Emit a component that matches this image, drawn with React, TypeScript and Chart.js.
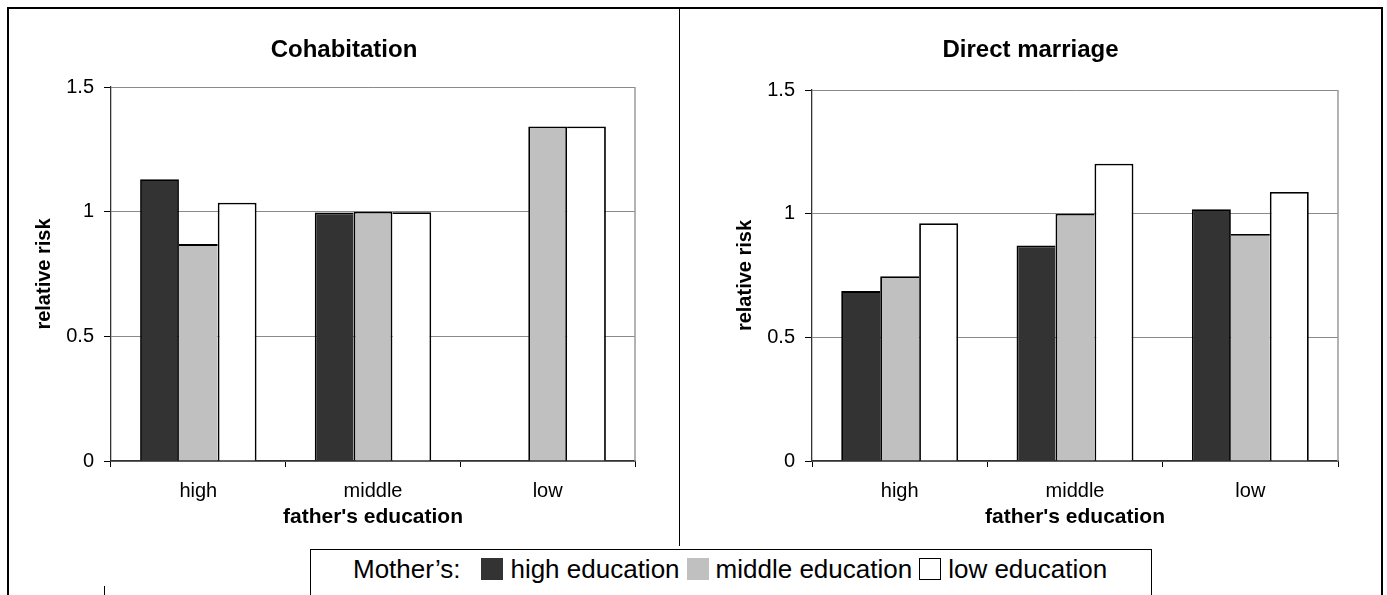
import React, { useEffect, useRef } from "react";
import { Chart, registerables } from "chart.js";

Chart.register(...registerables);

// Categories and series
const fatherEducation = ["high", "middle", "low"];
const motherSeries = ["high education", "middle education", "low education"];

// Relative risk of entering cohabitation, by mother's education
const cohabMotherHigh: (number | null)[] = [1.13, 0.997, null];
const cohabMotherMiddle: (number | null)[] = [0.87, 1.0, 1.342];
const cohabMotherLow: (number | null)[] = [1.036, 0.998, 1.342];

// Relative risk of direct marriage, by mother's education
const marriageMotherHigh: (number | null)[] = [0.687, 0.871, 1.018];
const marriageMotherMiddle: (number | null)[] = [0.747, 1.0, 0.918];
const marriageMotherLow: (number | null)[] = [0.961, 1.202, 1.088];

const yTickValues = [0, 0.5, 1, 1.5];

const FONT = '"Liberation Sans", Arial, Helvetica, sans-serif';
const COLORS = ["#333333", "#c0c0c0", "#ffffff"];

type PanelLayout = {
  left: number; // canvas page position
  top: number;
  width: number;
  height: number;
  plotLeft: number; // plot area, page coords
  plotRight: number;
  plotTop: number;
  plotBottom: number;
};

const LEFT_PANEL: PanelLayout = {
  left: 9, top: 9, width: 670, height: 539,
  plotLeft: 111, plotRight: 635, plotTop: 87, plotBottom: 461,
};
const RIGHT_PANEL: PanelLayout = {
  left: 680, top: 9, width: 701, height: 539,
  plotLeft: 812, plotRight: 1338, plotTop: 90, plotBottom: 461,
};

function panelTextPlugin(title: string) {
  return {
    id: "panelText",
    afterDraw(chart: any) {
      const { ctx, chartArea: a, width } = chart;
      ctx.save();
      ctx.fillStyle = "#000";
      ctx.textAlign = "center";
      ctx.textBaseline = "alphabetic";
      ctx.font = `bold 24px ${FONT}`;
      ctx.fillText(title, width / 2, 48);
      ctx.font = `bold 21px ${FONT}`;
      ctx.fillText("father's education", (a.left + a.right) / 2, 514);
      ctx.translate(a.left - 67, (a.top + a.bottom) / 2);
      ctx.rotate(-Math.PI / 2);
      ctx.textBaseline = "middle";
      ctx.font = `bold 20px ${FONT}`;
      ctx.fillText("relative risk", 0, 0);
      ctx.restore();
    },
  };
}

// grey right edge of the plot frame
const frameEdge = {
  id: "frameEdge",
  beforeDatasetsDraw(chart: any) {
    const { ctx, chartArea: a } = chart;
    ctx.save();
    ctx.strokeStyle = "#9a9a9a";
    ctx.lineWidth = 1.5;
    ctx.beginPath();
    ctx.moveTo(a.right, a.top);
    ctx.lineTo(a.right, a.bottom);
    ctx.stroke();
    ctx.restore();
  },
};

function makeChart(canvas: HTMLCanvasElement, layout: PanelLayout, title: string, series: (number | null)[][]) {
  const BW = 1.8;
  const datasets = series.map((values, si) => ({
    label: motherSeries[si],
    data: values,
    backgroundColor: COLORS[si],
    borderColor: "#000",
    borderSkipped: false as const,
    // a shared edge between neighbouring bars is drawn once, by the taller bar
    borderWidth: (ctx: any) => {
      const i = ctx.dataIndex;
      const cur = values[i] ?? 0;
      const prev = si > 0 ? series[si - 1][i] : null;
      const next = si < series.length - 1 ? series[si + 1][i] : null;
      const left = prev == null || prev < cur ? BW : 0;
      const right = next == null || next <= cur ? BW : 0;
      return { top: BW, right, bottom: 0, left };
    },
    categoryPercentage: 2 / 3,
    barPercentage: 1,
  }));

  const plotLeft = layout.plotLeft - layout.left;
  const plotRight = layout.plotRight - layout.left;
  const plotTop = layout.plotTop - layout.top;
  const plotBottom = layout.plotBottom - layout.top;

  return new Chart(canvas, {
    type: "bar",
    data: { labels: fatherEducation, datasets },
    plugins: [frameEdge, panelTextPlugin(title)],
    options: {
      responsive: false,
      animation: false,
      events: [],
      layout: { padding: { left: 0, right: layout.width - plotRight, top: plotTop, bottom: 0 } },
      plugins: { legend: { display: false }, tooltip: { enabled: false }, title: { display: false } },
      scales: {
        x: {
          type: "category",
          offset: true,
          grid: { offset: true, drawOnChartArea: false, drawTicks: true, tickLength: 6, tickColor: "#000", lineWidth: 1 },
          border: { color: "#333", width: 1.5 },
          ticks: { font: { family: FONT, size: 20 }, color: "#000", padding: 12, maxRotation: 0 },
          afterFit: (s: any) => { s.height = layout.height - plotBottom; },
        },
        y: {
          min: 0,
          max: 1.5,
          afterBuildTicks: (s: any) => { s.ticks = yTickValues.map((v) => ({ value: v })); },
          grid: { color: "#8a8a8a", tickColor: "#000", tickLength: 7, lineWidth: 1 },
          border: { color: "#333", width: 1.3 },
          ticks: { font: { family: FONT, size: 20 }, color: "#000", padding: 10, callback: (v: any) => String(v) },
          afterFit: (s: any) => { s.width = plotLeft; },
        },
      },
    },
  } as any);
}

function Swatch({ color }: { color: string }) {
  return (
    <span
      style={{
        display: "inline-block",
        width: 22,
        height: 22,
        background: color,
        border: color === "#ffffff" ? "1.5px solid #000" : "none",
        boxSizing: "border-box",
        margin: "0 7px 0 7px",
      }}
    />
  );
}

export default function App() {
  const leftRef = useRef<HTMLCanvasElement>(null);
  const rightRef = useRef<HTMLCanvasElement>(null);

  useEffect(() => {
    const c1 = makeChart(leftRef.current!, LEFT_PANEL, "Cohabitation", [cohabMotherHigh, cohabMotherMiddle, cohabMotherLow]);
    const c2 = makeChart(rightRef.current!, RIGHT_PANEL, "Direct marriage", [marriageMotherHigh, marriageMotherMiddle, marriageMotherLow]);
    return () => {
      c1.destroy();
      c2.destroy();
    };
  }, []);

  const canvasStyle = (p: PanelLayout): React.CSSProperties => ({
    position: "absolute",
    left: p.left,
    top: p.top,
    width: p.width,
    height: p.height,
  });

  return (
    <div style={{ position: "absolute", left: 0, top: 0, width: 1387, height: 595, overflow: "hidden", background: "#fff" }}>
      <div
        style={{
          position: "absolute", left: 7, top: 7, width: 1376, height: 700,
          border: "2px solid #000", boxSizing: "border-box",
        }}
      />
      <div style={{ position: "absolute", left: 679, top: 9, width: 1, height: 537, background: "#000" }} />
      <div style={{ position: "absolute", left: 104, top: 586, width: 1, height: 9, background: "#000" }} />
      <canvas ref={leftRef} width={LEFT_PANEL.width} height={LEFT_PANEL.height} style={canvasStyle(LEFT_PANEL)} />
      <canvas ref={rightRef} width={RIGHT_PANEL.width} height={RIGHT_PANEL.height} style={canvasStyle(RIGHT_PANEL)} />
      <div
        style={{
          position: "absolute", left: 310, top: 549, width: 842, height: 80,
          border: "1px solid #000", boxSizing: "border-box", background: "#fff",
          fontFamily: FONT, fontSize: 26, lineHeight: "30px", color: "#000",
          paddingTop: 4, paddingLeft: 42,
        }}
      >
        <div style={{ display: "flex", alignItems: "center", whiteSpace: "nowrap" }}>
          <span style={{ marginRight: 14 }}>Mother’s:</span>
          <Swatch color={COLORS[0]} />
          <span>{motherSeries[0]}</span>
          <Swatch color={COLORS[1]} />
          <span>{motherSeries[1]}</span>
          <Swatch color={COLORS[2]} />
          <span>{motherSeries[2]}</span>
        </div>
      </div>
    </div>
  );
}
